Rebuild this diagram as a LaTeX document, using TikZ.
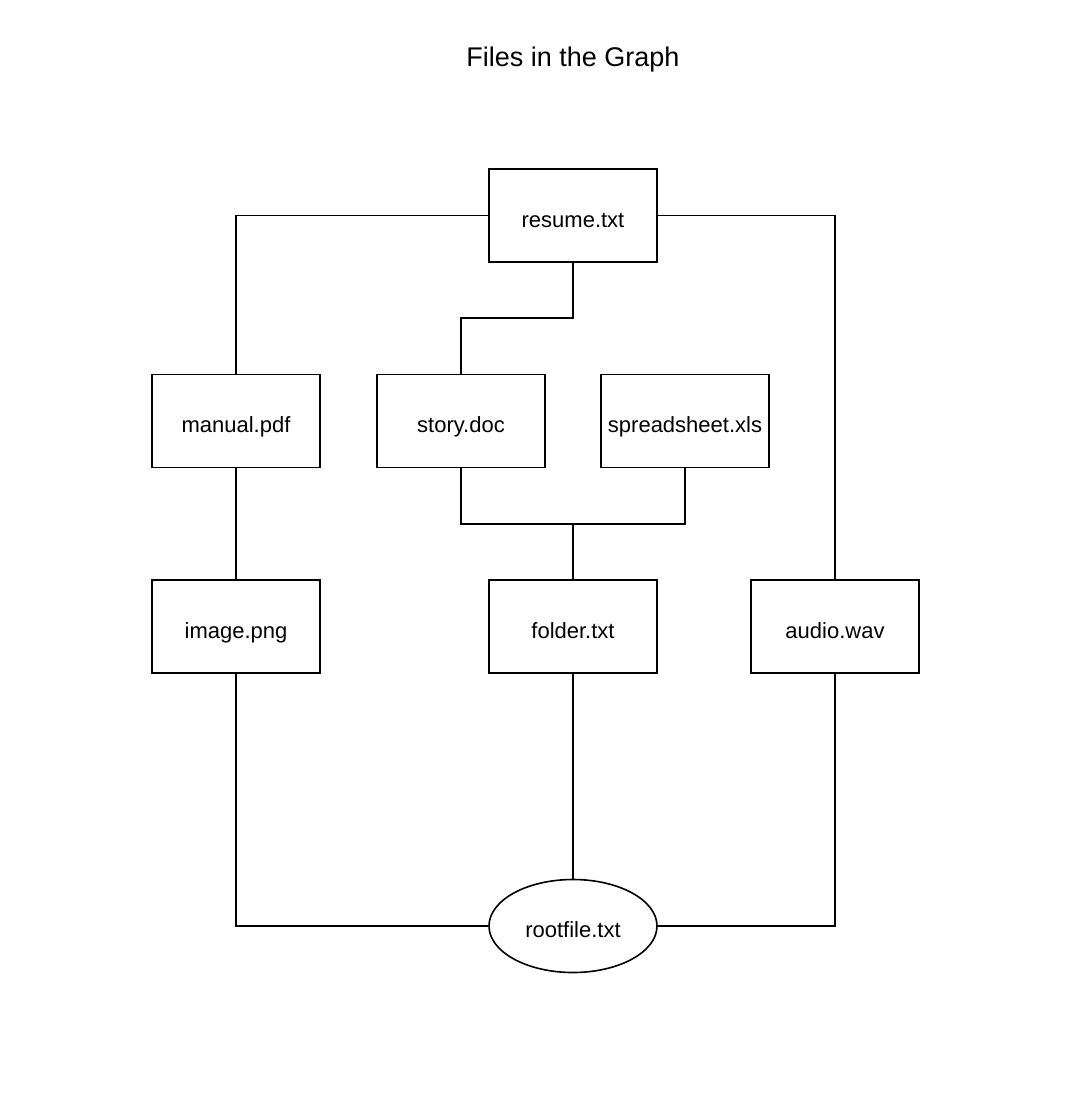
\documentclass[tikz,border=0pt]{standalone}
\usepackage{fontspec}
\setmainfont{Liberation Sans}
\usetikzlibrary{calc,shapes.geometric}

\begin{document}
\begin{tikzpicture}[x=0.5pt,y=-0.5pt,line width=0.8pt,
    filebox/.style={draw,rectangle,minimum width=84pt,minimum height=46.5pt,inner sep=0pt,text height=11.5pt,text depth=0pt,font=\fontsize{11}{13}\selectfont},
    rootbox/.style={draw,ellipse,minimum width=84pt,minimum height=46.5pt,inner sep=0pt,text height=11.5pt,text depth=0pt,font=\fontsize{11}{13}\selectfont}]
  \useasboundingbox (0,0) rectangle (1080,1099);
  \node (title) at (573,60) {\fontsize{13.5}{16}\selectfont Files in the Graph};
  \node[filebox] (resume) at (573,215.5) {resume.txt};
  \node[filebox] (manual) at (236,421) {manual.pdf};
  \node[filebox] (story) at (461,421) {story.doc};
  \node[filebox] (spreadsheet) at (685,421) {spreadsheet.xls};
  \node[filebox] (image) at (236,626.5) {image.png};
  \node[filebox] (folder) at (573,626.5) {folder.txt};
  \node[filebox] (audio) at (835,626.5) {audio.wav};
  \node[rootbox] (rootfile) at (573,926) {rootfile.txt};
  \draw (resume.west) -| (manual.north);
  \draw (resume.east) -| (audio.north);
  \draw (resume.south) |- ($(resume.south)!.5!(story.north)$) -| (story.north);
  \draw (story.south) |- ($(story.south)!.5!(folder.north)$) -| (folder.north);
  \draw (spreadsheet.south) |- ($(spreadsheet.south)!.5!(folder.north)$) -| (folder.north);
  \draw (manual.south) -- (image.north);
  \draw (image.south) |- (rootfile.west);
  \draw (folder.south) -- (rootfile.north);
  \draw (audio.south) |- (rootfile.east);
\end{tikzpicture}
\end{document}
